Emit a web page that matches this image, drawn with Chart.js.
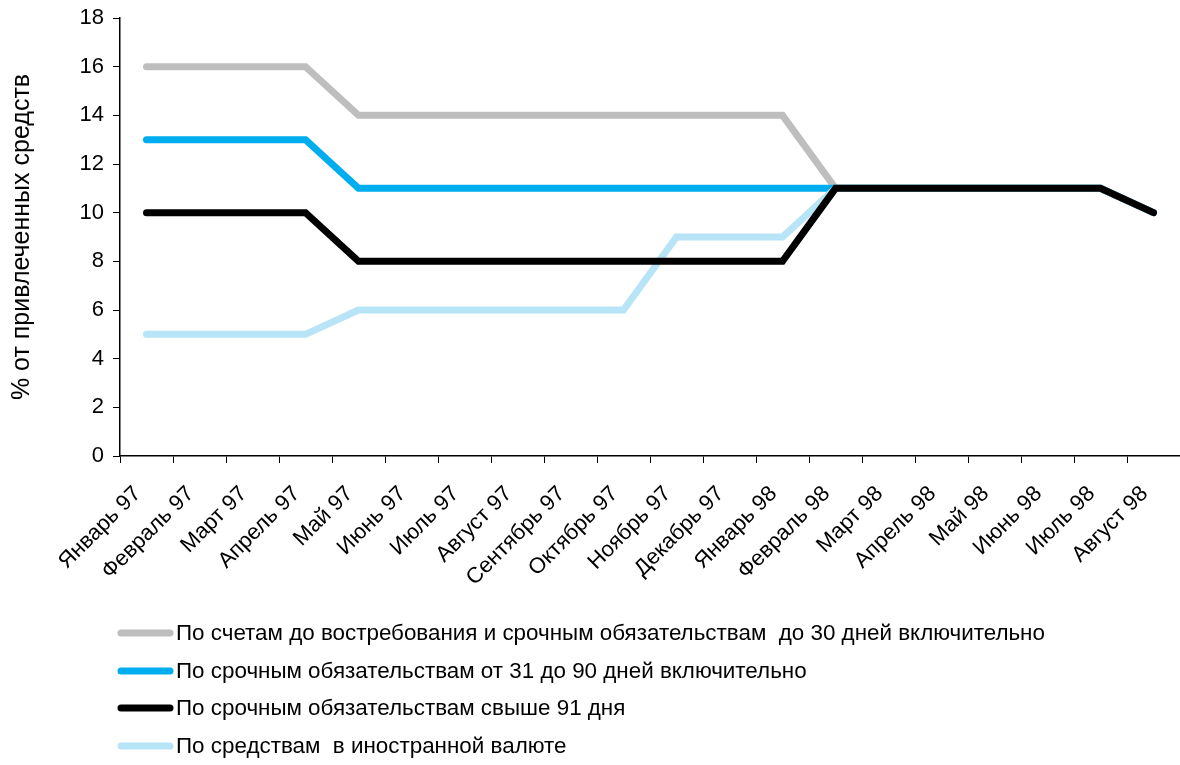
<!DOCTYPE html>
<html>
<head>
<meta charset="utf-8">
<script src="https://cdn.jsdelivr.net/npm/chart.js@4.4.0/dist/chart.umd.min.js"></script>
<style>
html,body{margin:0;padding:0;background:#fff;}
#wrap{position:relative;width:1180px;height:765px;}
</style>
</head>
<body>
<div id="wrap"><canvas id="c" width="1180" height="765"></canvas></div>
<script>
const categories = ['Январь 97','Февраль 97','Март 97','Апрель 97','Май 97','Июнь 97','Июль 97','Август 97','Сентябрь 97','Октябрь 97','Ноябрь 97','Декабрь 97','Январь 98','Февраль 98','Март 98','Апрель 98','Май 98','Июнь 98','Июль 98','Август 98'];
const labelDemand30 = 'По счетам до востребования и срочным обязательствам  до 30 дней включительно';
const labelTerm31to90 = 'По срочным обязательствам от 31 до 90 дней включительно';
const labelTermOver91 = 'По срочным обязательствам свыше 91 дня';
const labelForeign = 'По средствам  в иностранной валюте';
const demand30 = [16,16,16,16,14,14,14,14,14,14,14,14,14,11,11,11,11,11,11,10];
const term31to90 = [13,13,13,13,11,11,11,11,11,11,11,11,11,11,11,11,11,11,11,10];
const termOver91 = [10,10,10,10,8,8,8,8,8,8,8,8,8,11,11,11,11,11,11,10];
const foreignCurrency = [5,5,5,5,6,6,6,6,6,6,9,9,9,11,11,11,11,11,11,10];
const yTicks = [0,2,4,6,8,10,12,14,16,18];
const yTitle = '% от привлеченных средств';
const FONT = "'Liberation Sans', Arial, sans-serif";

// legend order (top to bottom) as in the reference
const legendOrder = [labelDemand30, labelTerm31to90, labelTermOver91, labelForeign];

const legendPlugin = {
  id: 'customLegend',
  afterDraw(chart) {
    const ctx = chart.ctx;
    ctx.save();
    const x0 = 121, x1 = 170, tx = 176;
    const ys = [633, 671, 708, 746];
    legendOrder.forEach((lbl, i) => {
      const ds = chart.data.datasets.find(d => d.label === lbl);
      const y = ys[i];
      ctx.strokeStyle = ds.borderColor;
      ctx.lineWidth = 7;
      ctx.lineCap = 'round';
      ctx.beginPath();
      ctx.moveTo(x0, y);
      ctx.lineTo(x1, y);
      ctx.stroke();
      ctx.fillStyle = '#000';
      ctx.font = '22.4px ' + FONT;
      ctx.textBaseline = 'middle';
      ctx.textAlign = 'left';
      ctx.fillText(ds.label, tx, y + 1);
    });
    ctx.restore();
  }
};

function mk(label, data, color) {
  return {
    label, data,
    borderColor: color, backgroundColor: color,
    borderWidth: 7, pointRadius: 0, tension: 0,
    borderCapStyle: 'round', borderJoinStyle: 'miter', fill: false
  };
}

// dataset 0 is drawn on top
const datasets = [
  mk(labelTermOver91, termOver91, '#000000'),
  mk(labelForeign, foreignCurrency, '#B8E4F7'),
  mk(labelTerm31to90, term31to90, '#00AEEF'),
  mk(labelDemand30, demand30, '#BEBEBE')
];

new Chart(document.getElementById('c'), {
  type: 'line',
  data: { labels: categories, datasets },
  plugins: [legendPlugin],
  options: {
    responsive: false,
    animation: false,
    layout: { padding: { top: 18, right: 0, bottom: 0, left: 0 } },
    plugins: { legend: { display: false }, tooltip: { enabled: false } },
    scales: {
      x: {
        type: 'category',
        offset: true,
        grid: { display: true, offset: true, drawOnChartArea: false, drawTicks: true, tickLength: 7, color: '#000', lineWidth: 1 },
        border: { display: true, color: '#000', width: 1.5 },
        ticks: { color: '#000', font: { family: FONT, size: 22 }, maxRotation: 45, minRotation: 45, autoSkip: false, padding: 18, labelOffset: -9 },
        afterFit(scale) { scale.height = 309; scale.paddingLeft = 0; scale.paddingRight = 0; scale.paddingTop = 0; scale.paddingBottom = 0; }
      },
      y: {
        min: 0, max: 18,
        afterBuildTicks(scale) { scale.ticks = yTicks.map(v => ({ value: v })); },
        grid: { display: true, drawOnChartArea: false, drawTicks: true, tickLength: 7, color: '#000', lineWidth: 1 },
        border: { display: true, color: '#000', width: 1.5 },
        ticks: { color: '#000', font: { family: FONT, size: 22 }, padding: 9 },
        title: { display: true, text: yTitle, color: '#000', font: { family: FONT, size: 25 }, padding: { top: 7, bottom: 0 } },
        afterFit(scale) { scale.width = 120; scale.paddingTop = 0; scale.paddingBottom = 0; scale.paddingLeft = 0; scale.paddingRight = 0; }
      }
    }
  }
});
</script>
</body>
</html>
